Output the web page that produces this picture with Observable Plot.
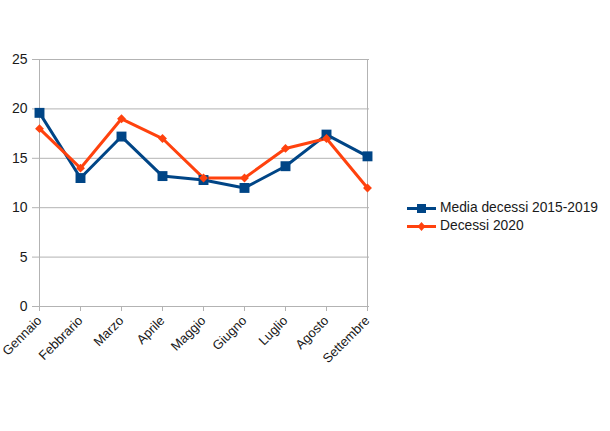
<!DOCTYPE html>
<html><head><meta charset="utf-8">
<script src="https://cdn.jsdelivr.net/npm/d3@7"></script>
<script src="https://cdn.jsdelivr.net/npm/@observablehq/plot@0.6"></script>
<style>
body{margin:0;background:#fff;font-family:"Liberation Sans",Arial,sans-serif}
#wrap{position:relative;width:610px;height:431px}
#legend{position:absolute;left:407px;top:199px;font-size:13.8px;color:#1a1a1a;line-height:18px}
#legend div{display:flex;align-items:center;height:18px}
#legend svg{margin-right:4px}
</style>
</head><body><div id="wrap"><div id="legend"></div></div>
<script>
const mesi = ["Gennaio","Febbrario","Marzo","Aprile","Maggio","Giugno","Luglio","Agosto","Settembre"];
const media = [19.6, 13.0, 17.2, 13.2, 12.8, 12.0, 14.2, 17.4, 15.2];
const decessi2020 = [18, 14, 19, 17, 13, 13, 16, 17, 12];
const yTicks = [0, 5, 10, 15, 20, 25];
const serieNomi = ["Media decessi 2015-2019", "Decessi 2020"];
const colori = ["#004586", "#ff420e"];
const simboli = ["square", "diamond2"];

const rows = mesi.flatMap((m, i) => [
  {mese: m, valore: media[i], serie: serieNomi[0]},
  {mese: m, valore: decessi2020[i], serie: serieNomi[1]}
]);

const chart = Plot.plot({
  width: 610, height: 431,
  marginLeft: 37, marginRight: 241, marginTop: 59, marginBottom: 125,
  style: {fontFamily: "Liberation Sans, Arial, sans-serif", color: "#1a1a1a", background: "#fff", fontSize: "13px"},
  x: {type: "point", domain: mesi, padding: 0, label: null},
  y: {domain: [0, 25], label: null},
  color: {domain: serieNomi, range: colori},
  symbol: {domain: serieNomi, range: simboli},
  marks: [
    Plot.gridY(yTicks, {stroke: "#b3b3b3", strokeOpacity: 1}),
    Plot.ruleX([mesi[0], mesi[mesi.length - 1]], {y1: 0, y2: 25, stroke: "#b3b3b3"}),
    Plot.axisY({ticks: yTicks, tickSize: 5, tickPadding: 5, stroke: "#b3b3b3", fontSize: 14, label: null}),
    Plot.axisX({tickRotate: -45, tickSize: 5, tickPadding: 7, stroke: "#b3b3b3", fontSize: 13, label: null}),
    Plot.line(rows, {x: "mese", y: "valore", z: "serie", stroke: "serie", strokeWidth: 3, strokeLinejoin: "round"}),
    Plot.dot(rows.filter(d => d.serie === serieNomi[0]), {x: "mese", y: "valore", symbol: "serie", fill: "serie", r: 5.6, stroke: "none"}),
    Plot.dot(rows.filter(d => d.serie === serieNomi[1]), {x: "mese", y: "valore", symbol: "serie", fill: "serie", r: 4, stroke: "none"})
  ]
});
document.getElementById("wrap").prepend(chart);

const legend = document.getElementById("legend");
serieNomi.forEach((n, i) => {
  const row = document.createElement("div");
  const marker = i === 0
    ? `<rect x="10" y="4" width="9" height="9" fill="${colori[i]}"/>`
    : `<path d="M14.5 4 L18.5 8.5 L14.5 13 L10.5 8.5Z" fill="${colori[i]}"/>`;
  row.innerHTML = `<svg width="29" height="17"><line x1="0" x2="29" y1="8.5" y2="8.5" stroke="${colori[i]}" stroke-width="3"/>${marker}</svg><span>${n}</span>`;
  legend.appendChild(row);
});
</script>
</body></html>
